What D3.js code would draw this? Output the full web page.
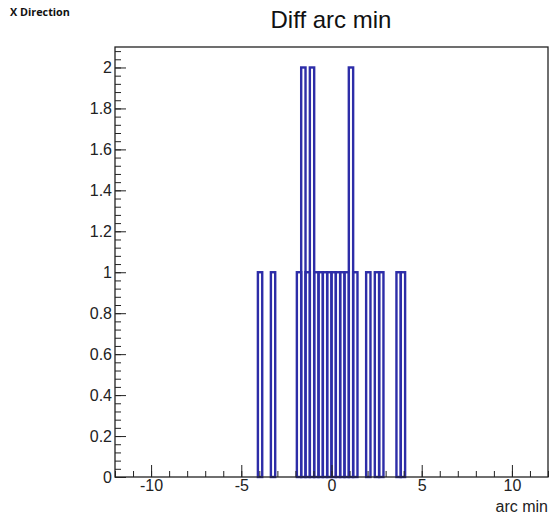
<!DOCTYPE html>
<html>
<head>
<meta charset="utf-8">
<script src="https://cdn.jsdelivr.net/npm/d3@7"></script>
<style>
    body { margin: 0; background: #fff; }
    svg text { font-family: "Liberation Sans", Arial, sans-serif; }
</style>
</head>
<body>
<svg id="chart" width="553" height="519"></svg>
<script>
// histogram set-up: 100 bins over [-12, 12]
const xRange = [-12, 12]
const nBins = 100
const yMax = 2.1

// non-empty bins (bin centre, entries)
const binCenters = [-3.96, -3.24, -1.80, -1.56, -1.32, -1.08, -0.84, -0.60, -0.36, -0.12,
    0.12, 0.36, 0.60, 0.84, 1.08, 1.32, 2.04, 2.52, 2.76, 3.72, 3.96]
const binCounts = [1, 1, 1, 2, 1, 2, 1, 1, 1, 1,
    1, 1, 1, 1, 2, 1, 1, 1, 1, 1, 1]

const xMajorTicks = [-10, -5, 0, 5, 10]
const yMajorTicks = [0, 0.2, 0.4, 0.6, 0.8, 1, 1.2, 1.4, 1.6, 1.8, 2]

const FRAME = {left: 115, top: 47, right: 548, bottom: 477}
const BLUE = "#2d2da8"

let svg = d3.select("#chart"),
    binWidth = (xRange[1] - xRange[0]) / nBins,
    bins = binCenters.map((c, i) => ({center: c, count: binCounts[i]})),
    xAxis = d3.scaleLinear().domain(xRange).range([FRAME.left, FRAME.right]),
    yAxis = d3.scaleLinear().domain([0, yMax]).range([FRAME.bottom, FRAME.top]),
    rootFormat = d => String(+d.toFixed(2))

// corner label
svg.append("text")
    .text("X Direction")
    .attr("x", 10)
    .attr("y", 16)
    .style("font-family", "'Open Sans', sans-serif")
    .style("font-weight", "bold")
    .style("font-size", "10.8px")
    .style("fill", "#111")

// title
svg.append("text")
    .text("Diff arc min")
    .attr("x", 331)
    .attr("y", 28)
    .attr("text-anchor", "middle")
    .style("font-size", "24px")
    .style("fill", "#111")

// bins
svg.append("g")
    .selectAll("rect")
    .data(bins)
    .join("rect")
    .attr("x", d => xAxis(d.center - binWidth / 2))
    .attr("width", d => xAxis(d.center + binWidth / 2) - xAxis(d.center - binWidth / 2))
    .attr("y", d => yAxis(d.count))
    .attr("height", d => yAxis(0) - yAxis(d.count))
    .attr("fill", "none")
    .attr("stroke", BLUE)
    .attr("stroke-width", 2.4)

// y axis (ticks inside the frame)
let yMinor = d3.range(0, 2.1 + 1e-9, 0.04).filter(v => v <= yMax)
svg.append("g")
    .attr("transform", `translate(${FRAME.left},0)`)
    .call(d3.axisLeft(yAxis).tickValues(yMinor).tickSize(-6).tickFormat(""))
    .call(g => g.select(".domain").remove())
svg.append("g")
    .attr("transform", `translate(${FRAME.left},0)`)
    .call(d3.axisLeft(yAxis).tickValues(yMajorTicks).tickSize(-11).tickPadding(3).tickFormat(rootFormat))
    .call(g => g.select(".domain").remove())
    .selectAll("text")
    .style("font-size", "16px")
    .style("fill", "#222")

// x axis
svg.append("g")
    .attr("transform", `translate(0,${FRAME.bottom})`)
    .call(d3.axisBottom(xAxis).tickValues(d3.range(-12, 13, 1)).tickSize(-6).tickFormat(""))
    .call(g => g.select(".domain").remove())
svg.append("g")
    .attr("transform", `translate(0,${FRAME.bottom})`)
    .call(d3.axisBottom(xAxis).tickValues(xMajorTicks).tickSize(-12).tickPadding(3).tickFormat(rootFormat))
    .call(g => g.select(".domain").remove())
    .selectAll("text")
    .style("font-size", "16px")
    .style("fill", "#222")

svg.selectAll(".tick line").attr("stroke", "#222")

// axis title
svg.append("text")
    .text("arc min")
    .attr("x", FRAME.right)
    .attr("y", 512)
    .attr("text-anchor", "end")
    .style("font-size", "16px")
    .style("fill", "#222")

// frame
svg.append("rect")
    .attr("x", FRAME.left)
    .attr("y", FRAME.top)
    .attr("width", FRAME.right - FRAME.left)
    .attr("height", FRAME.bottom - FRAME.top)
    .attr("fill", "none")
    .attr("stroke", "#222")
    .attr("stroke-width", 1.3)
</script>
</body>
</html>
